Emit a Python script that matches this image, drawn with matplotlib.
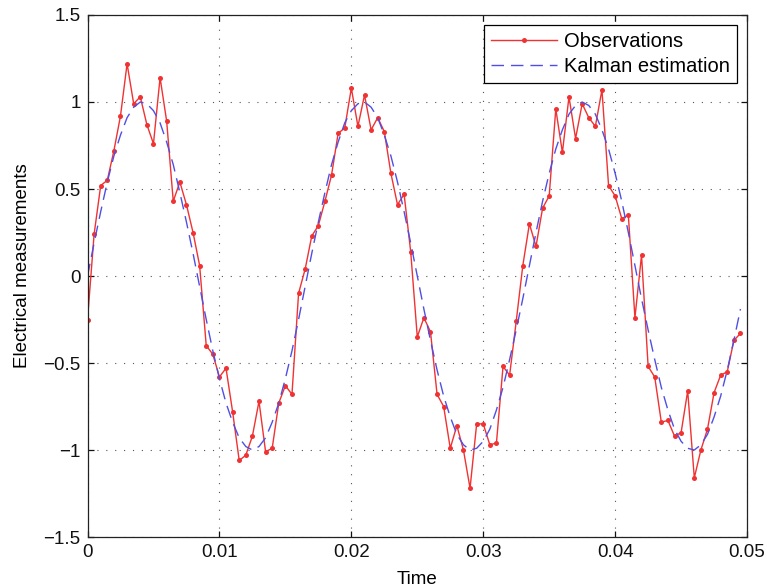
import numpy as np
import matplotlib
matplotlib.use("Agg")
import matplotlib.pyplot as plt

plt.rcParams['font.family'] = ['Liberation Sans', 'DejaVu Sans']

# sampling step of the measurement (s)
dt = 0.0005

# noisy electrical measurements
observations = [-0.25, 0.24, 0.52, 0.55, 0.72, 0.92, 1.22, 0.99, 1.03, 0.87,
                0.76, 1.14, 0.89, 0.43, 0.54, 0.41, 0.25, 0.06, -0.40, -0.45,
                -0.58, -0.53, -0.78, -1.06, -1.03, -0.92, -0.72, -1.01, -0.99, -0.73,
                -0.63, -0.68, -0.10, 0.04, 0.23, 0.29, 0.43, 0.58, 0.82, 0.85,
                1.08, 0.86, 1.04, 0.84, 0.91, 0.83, 0.59, 0.41, 0.47, 0.14,
                -0.35, -0.24, -0.32, -0.68, -0.75, -0.99, -0.86, -1.00, -1.22, -0.85,
                -0.85, -0.97, -0.96, -0.52, -0.57, -0.26, 0.06, 0.30, 0.17, 0.39,
                0.46, 0.96, 0.71, 1.03, 0.79, 0.99, 0.91, 0.86, 1.07, 0.52,
                0.46, 0.33, 0.35, -0.24, 0.12, -0.52, -0.58, -0.84, -0.83, -0.92,
                -0.90, -0.66, -1.16, -1.00, -0.88, -0.67, -0.57, -0.55, -0.37, -0.33]

# filtered signal
kalman = [0.00, 0.19, 0.37, 0.54, 0.69, 0.81, 0.91, 0.97, 1.00, 0.99,
          0.95, 0.88, 0.77, 0.64, 0.48, 0.31, 0.13, -0.06, -0.25, -0.43,
          -0.59, -0.73, -0.84, -0.93, -0.98, -1.00, -0.98, -0.93, -0.84, -0.73,
          -0.59, -0.43, -0.25, -0.06, 0.13, 0.31, 0.48, 0.64, 0.77, 0.88,
          0.95, 0.99, 1.00, 0.97, 0.91, 0.81, 0.69, 0.54, 0.37, 0.19,
          0.00, -0.19, -0.37, -0.54, -0.69, -0.81, -0.91, -0.97, -1.00, -0.99,
          -0.95, -0.88, -0.77, -0.64, -0.48, -0.31, -0.13, 0.06, 0.25, 0.43,
          0.59, 0.73, 0.84, 0.93, 0.98, 1.00, 0.98, 0.93, 0.84, 0.73,
          0.59, 0.43, 0.25, 0.06, -0.13, -0.31, -0.48, -0.64, -0.77, -0.88,
          -0.95, -0.99, -1.00, -0.97, -0.91, -0.81, -0.69, -0.54, -0.37, -0.19]

xticks = [0, 0.01, 0.02, 0.03, 0.04, 0.05]
xtick_labels = ['0', '0.01', '0.02', '0.03', '0.04', '0.05']
yticks = [-1.5, -1, -0.5, 0, 0.5, 1, 1.5]
ytick_labels = ['\u22121.5', '\u22121', '\u22120.5', '0', '0.5', '1', '1.5']

time = np.arange(len(observations)) * dt

fig = plt.figure(figsize=(7.67, 5.88), dpi=100)
ax = fig.add_axes([0.1141, 0.0867, 0.8599, 0.8878])

ax.plot(time, observations, color='#f03232', linewidth=1.0, marker='o',
        markersize=3.6, markeredgewidth=0, label='Observations')
ax.plot(time, kalman, color='#4f4fe6', linewidth=1.0, linestyle=(0, (9, 5)),
        label='Kalman estimation')

ax.set_xlim(0, 0.05)
ax.set_ylim(-1.5, 1.5)
ax.set_xticks(xticks)
ax.set_xticklabels(xtick_labels)
ax.set_yticks(yticks)
ax.set_yticklabels(ytick_labels)
ax.tick_params(direction='in', top=True, right=True, length=4.5, width=0.9,
               labelsize=13.5, pad=5, colors='#111111')
for sp in ax.spines.values():
    sp.set_linewidth(0.9)
    sp.set_color('#222222')

ax.grid(True, linestyle=(0, (1, 7)), color='#555555', linewidth=0.8)

ax.set_xlabel('Time', fontsize=13.5)
ax.set_ylabel('Electrical measurements', fontsize=13.5)
ax.xaxis.set_label_coords(0.5, -0.066)
ax.yaxis.set_label_coords(-0.086, 0.519)

leg = ax.legend(loc='upper right', fontsize=14.5, fancybox=False, edgecolor='black',
                framealpha=1, numpoints=1, handlelength=3.3, handletextpad=0.35,
                labelspacing=0.3, borderpad=0.35, borderaxespad=0.5)
leg.get_frame().set_linewidth(0.9)

plt.savefig('out.png', dpi=100)
